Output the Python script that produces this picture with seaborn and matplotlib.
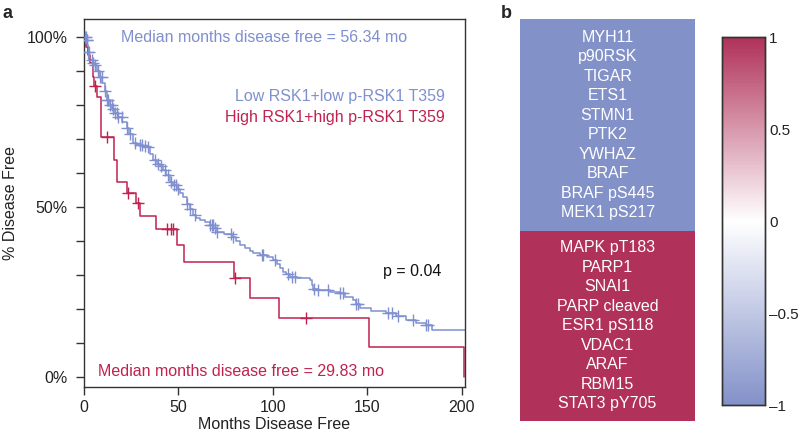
import numpy as np
import pandas as pd
import matplotlib
matplotlib.use("Agg")
import matplotlib.pyplot as plt
from matplotlib.colors import LinearSegmentedColormap
import seaborn as sns

# ---------------- data ----------------
# Kaplan-Meier step curves (time in months, % disease free after the step)
low_t = [0, 1.0, 1.8, 2.3, 2.8, 4.5, 5.8, 7.0, 8.5, 9.5, 11, 12, 13.5, 15, 16.4, 18, 20,
         22.6, 24, 26, 28, 31, 33, 35, 36.7, 38.5, 40, 42, 43.5, 45.5, 47, 49, 50.8,
         52.5, 54.3, 56, 57.5, 59.5, 61.4, 64, 66.7, 68.5, 70.2, 74, 79, 80.5, 82.5,
         85, 88, 89.6, 93, 97, 100, 102, 104, 105.5, 107, 109, 113, 119.6, 120.5, 121,
         124, 130, 135.4, 138, 142.5, 144, 146, 152, 160, 165, 170.7, 176, 181, 184, 205]
low_s = [100, 99, 97.6, 95.5, 93.2, 92.5, 91.8, 90, 88.2, 86.5, 84, 81.5, 80, 78.8, 77.6,
         76.5, 75, 73.2, 71.5, 68.8, 68.2, 67.9, 67.6, 65.5, 63.8, 62.8, 62, 60.9, 59.5,
         57.4, 56.5, 55.2, 54, 53, 51, 49.5, 47.6, 46.9, 46.2, 45.5, 44.7, 43.8, 42.7, 42,
         41.3, 40, 38.8, 38, 37, 36.4, 35.9, 35.2, 34.4, 33.3, 32, 31, 30.2, 29.5, 29,
         28.5, 27.2, 26, 25.5, 25.1, 24.6, 23.6, 22.6, 21.4, 20.2, 19.5, 18.7, 17.8, 16.8,
         16, 15.3, 13.8, 13.8]
low_censor = [0.3, 0.8, 1.4, 1.7, 2.3, 2.6, 4.0, 5.0, 5.8, 7.6, 8.5, 9.4, 11.1, 12.0, 12.9,
              13.8, 14.6, 15.5, 16.4, 17.3, 18.2, 19.9, 22.6, 24.3, 27.0, 29.6, 30.5, 32.3,
              34.0, 37.6, 39.3, 41.0, 43.0, 44.6, 45.8, 47.5, 48.5, 50.0, 54.3, 56.0, 58.7,
              66.7, 67.5, 68.3, 69.3, 70.2, 78.0, 79.0, 94.0, 95.0, 101.0, 108.0, 110.0,
              111.6, 122.0, 124.0, 129.0, 135.4, 137.0, 144.0, 145.0, 161.0, 163.0, 166.0,
              174.0, 181.0, 182.0]

high_t = [0, 1.0, 2.2, 3.2, 4.6, 5.3, 6.7, 9.0, 15.8, 17.4, 22.8, 27.5, 29.6, 38.0, 49.0,
          53.2, 79.5, 87.8, 103.3, 151.0, 201.0]
high_s = [100, 97.0, 94.7, 92.4, 88.2, 85.6, 82.4, 70.6, 63.8, 57.4, 54.2, 51.1, 47.4, 43.5,
          38.8, 33.9, 29.0, 23.3, 17.4, 8.9, 0]
high_censor = [5.8, 12.0, 23.5, 28.7, 43.7, 45.8, 47.2, 80.0, 117.3]

x_ticks = [0, 50, 100, 150, 200]
y_ticks = [0, 10, 20, 30, 40, 50, 60, 70, 80, 90, 100]
y_ticklabels = ["0%", "", "", "", "", "50%", "", "", "", "", "100%"]

genes_low = ["MYH11", "p90RSK", "TIGAR", "ETS1", "STMN1", "PTK2", "YWHAZ", "BRAF",
             "BRAF pS445", "MEK1 pS217"]
genes_high = ["MAPK pT183", "PARP1", "SNAI1", "PARP cleaved", "ESR1 pS118", "VDAC1",
              "ARAF", "RBM15", "STAT3 pY705"]
corr_low = [-1] * len(genes_low)
corr_high = [1] * len(genes_high)
cbar_ticks = [-1, -0.5, 0, 0.5, 1]
cbar_labels = ["\u20131", "\u20130.5", "0", "0.5", "1"]

BLUE = "#7f8fd0"
RED = "#c0224f"
HM_BLUE = "#8391c9"
HM_RED = "#b0315a"

# ---------------- style ----------------
sns.set_style("white")
plt.rcParams["font.family"] = ["Liberation Sans", "DejaVu Sans"]
plt.rcParams["font.size"] = 11.5

fig = plt.figure(figsize=(8, 4.37), dpi=100)
ax1 = fig.add_axes([0.105, 0.1144, 0.476, 0.8421])
ax2 = fig.add_axes([0.65, 0.0366, 0.219, 0.9199])
cax = fig.add_axes([0.9025, 0.0732, 0.0538, 0.8421])


def step_value(ts, ss, c):
    i = np.searchsorted(np.asarray(ts), c, side="right") - 1
    return np.asarray(ss)[i]


low_df = pd.DataFrame({"t": low_t, "s": low_s})
high_df = pd.DataFrame({"t": high_t, "s": high_s})
low_c = pd.DataFrame({"t": low_censor, "s": [step_value(low_t, low_s, c) for c in low_censor]})
high_c = pd.DataFrame({"t": high_censor, "s": [step_value(high_t, high_s, c) for c in high_censor]})

sns.lineplot(data=low_df, x="t", y="s", ax=ax1, color=BLUE, lw=1.1, estimator=None,
             drawstyle="steps-post", sort=False)
sns.lineplot(data=high_df, x="t", y="s", ax=ax1, color=RED, lw=1.1, estimator=None,
             drawstyle="steps-post", sort=False)
sns.scatterplot(data=low_c, x="t", y="s", ax=ax1, marker="+", color=BLUE, s=70,
                linewidth=1.0, zorder=3)
sns.scatterplot(data=high_c, x="t", y="s", ax=ax1, marker="+", color=RED, s=70,
                linewidth=1.0, zorder=3)

ax1.set_xlim(0, 201.6)
ax1.set_ylim(-2.94, 105.3)
ax1.set_xticks(x_ticks)
ax1.set_xticklabels([str(v) for v in x_ticks])
ax1.set_yticks(y_ticks)
ax1.set_yticklabels(y_ticklabels)
ax1.tick_params(axis="both", direction="out", length=6, width=1, color="#333333",
                labelsize=11.5, labelcolor="#222222", left=True, bottom=True)
ax1.tick_params(axis="y", pad=6)
ax1.tick_params(axis="x", pad=3)
for sp in ax1.spines.values():
    sp.set_color("#333333")
    sp.set_linewidth(1.0)
ax1.set_xlabel("Months Disease Free", fontsize=11.5, color="#222222", labelpad=2)
ax1.set_ylabel("% Disease Free", fontsize=11.5, color="#222222", labelpad=6)

ax1.text(95.2, 100, "Median months disease free = 56.34 mo", color=BLUE, ha="center",
         va="center", fontsize=11.5)
ax1.text(191, 82.4, "Low RSK1+low p-RSK1 T359", color=BLUE, ha="right", va="center",
         fontsize=11.5)
ax1.text(191, 76.2, "High RSK1+high p-RSK1 T359", color=RED, ha="right", va="center",
         fontsize=11.5)
ax1.text(173.6, 30.9, "p = 0.04", color="#111111", ha="center", va="center", fontsize=11.5)
ax1.text(83.3, 1.5, "Median months disease free = 29.83 mo", color=RED, ha="center",
         va="center", fontsize=11.5)

# ---------------- heatmap ----------------
genes = genes_low + genes_high
hm = pd.DataFrame({"corr": corr_low + corr_high}, index=genes)
cmap = LinearSegmentedColormap.from_list("rb", [HM_BLUE, "#ffffff", HM_RED])
sns.heatmap(hm, ax=ax2, cmap=cmap, vmin=-1, vmax=1, cbar_ax=cax, linewidths=0,
            xticklabels=False, yticklabels=False)
ax2.set_xlabel("")
ax2.set_ylabel("")

row_px = 402 / len(genes)
gap = 19.5 / row_px
for names, centre in ((genes_low, len(genes_low) / 2),
                      (genes_high, len(genes_low) + len(genes_high) / 2)):
    n = len(names)
    for i, g in enumerate(names):
        ax2.text(0.5, centre + (i - (n - 1) / 2) * gap, g, color="white", ha="center",
                 va="center", fontsize=11.5)

cax.set_yticks(cbar_ticks)
cax.set_yticklabels(cbar_labels)
cax.tick_params(axis="y", length=0, pad=3, labelsize=11, labelcolor="#222222")
for sp in cax.spines.values():
    sp.set_visible(True)
    sp.set_color("#333333")
    sp.set_linewidth(1.0)

fig.text(0.003, 0.988, "a", fontweight="bold", fontsize=13, va="top", ha="left")
fig.text(0.626, 0.988, "b", fontweight="bold", fontsize=13, va="top", ha="left")

fig.savefig("out.png", dpi=100)
